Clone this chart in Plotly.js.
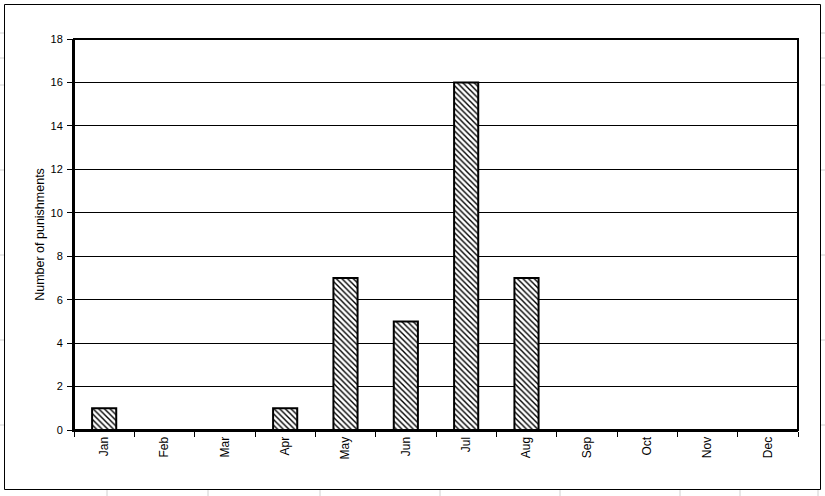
<!DOCTYPE html>
<html><head><meta charset="utf-8">
<script src="https://cdn.plot.ly/plotly-3.0.1.min.js"></script>
<style>body{margin:0;padding:0;background:#fff}#chart{width:825px;height:496px}</style>
</head><body><div id="chart"></div>
<script>
const months = ["Jan","Feb","Mar","Apr","May","Jun","Jul","Aug","Sep","Oct","Nov","Dec"];
const punishments = [1,0,0,1,7,5,16,7,0,0,0,0];
const yTicks = [0,2,4,6,8,10,12,14,16,18];

const L=74, R=798, T=39, B=430;
const W=825, H=496;
function px(x){return (x-L)/(R-L);}
function py(y){return (B-y)/(B-T);}

const shapes = [];
// faint spreadsheet gridlines around the chart
[107,208,320,440,560,680,740,818].forEach(x=>{
  shapes.push({type:'line',xref:'paper',yref:'paper',x0:px(x),x1:px(x),y0:py(496),y1:py(489),line:{color:'#d0d0d0',width:1},layer:'below'});
});
[33,58,85,170,255,340,425].forEach(y=>{
  shapes.push({type:'line',xref:'paper',yref:'paper',x0:px(0),x1:px(4),y0:py(y),y1:py(y),line:{color:'#d0d0d0',width:1},layer:'below'});
  shapes.push({type:'line',xref:'paper',yref:'paper',x0:px(820),x1:px(825),y0:py(y),y1:py(y),line:{color:'#d0d0d0',width:1},layer:'below'});
});
// chart area border
shapes.push({type:'rect',xref:'paper',yref:'paper',x0:px(4.5),x1:px(820.5),y0:py(489.5),y1:py(4.5),line:{color:'black',width:1},layer:'below'});
// plot area border (top & right)
shapes.push({type:'rect',xref:'paper',yref:'paper',x0:0,x1:1,y0:0,y1:1,line:{color:'black',width:2}});

const trace = {
  type:'bar', x:months, y:punishments, width:0.4,
  marker:{color:'white', line:{color:'black',width:2},
    pattern:{shape:'\\', size:4, solidity:0.35, fgcolor:'black', bgcolor:'white'}},
  hoverinfo:'none'
};

const layout = {
  width:W, height:H,
  margin:{l:L, r:W-R, t:T, b:H-B},
  paper_bgcolor:'white', plot_bgcolor:'white',
  font:{family:'Liberation Sans, Arial, sans-serif', size:11, color:'black'},
  showlegend:false, bargap:0.6,
  xaxis:{type:'category', categoryorder:'array', categoryarray:months,
    showline:true, linecolor:'black', linewidth:2, ticks:'outside', tickson:'boundaries',
    ticklen:5, tickcolor:'black', tickwidth:1, tickangle:-90, showgrid:false, zeroline:false,
    tickfont:{size:12}},
  yaxis:{range:[0,18], tickvals:yTicks, ticktext:yTicks.map(String), showline:true, linecolor:'black', linewidth:2,
    ticks:'outside', ticklen:5, tickcolor:'black', tickwidth:1, showgrid:true, gridcolor:'black', gridwidth:1,
    zeroline:false, tickfont:{size:11}, ticklabelstandoff:2,
    title:{text:'Number of punishments', font:{size:12.5}, standoff:3}},
  shapes:shapes
};
Plotly.newPlot('chart',[trace],layout,{staticPlot:true});
</script></body></html>
